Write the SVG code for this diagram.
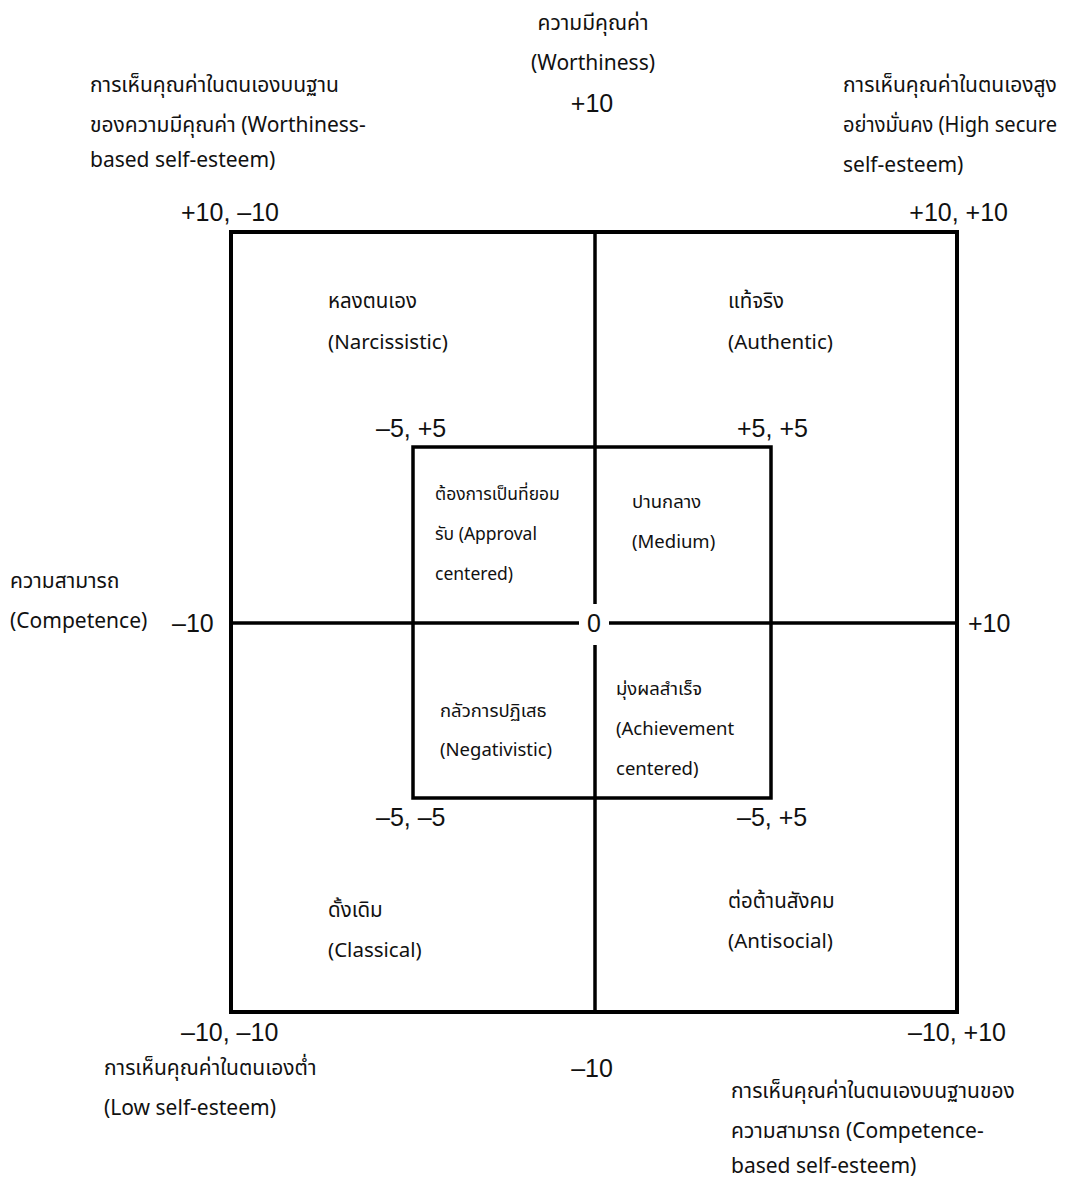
<svg xmlns="http://www.w3.org/2000/svg" width="1065" height="1181" viewBox="0 0 1065 1181">
<style>
.t{font-family:"Noto Sans","Noto Sans Thai",sans-serif;font-size:21px;fill:#111}
.q{font-family:"Noto Sans","Noto Sans Thai",sans-serif;font-size:20.5px;fill:#111}
.i{font-family:"Noto Sans","Noto Sans Thai",sans-serif;font-size:18.5px;fill:#111}
.s{font-family:"Noto Sans","Noto Sans Thai",sans-serif;font-size:17.5px;fill:#111}
.n{font-family:"Liberation Sans",Arial,sans-serif;font-size:25px;fill:#111}
.m{text-anchor:middle}
.e{text-anchor:end}
</style>
<rect width="1065" height="1181" fill="#fff"/>
<g id="connectors" fill="none" stroke="#000">
<rect x="231" y="232" width="726" height="780" stroke-width="4"/>
<rect x="413" y="447" width="358" height="351" stroke-width="3.5"/>
<line x1="595" y1="232" x2="595" y2="604" stroke-width="3.5"/>
<line x1="595" y1="645" x2="595" y2="1012" stroke-width="3.5"/>
<line x1="231" y1="623" x2="579" y2="623" stroke-width="3.5"/>
<line x1="609" y1="623" x2="957" y2="623" stroke-width="3.5"/>
</g>
<g id="axis-top">
<text class="t m" x="593" y="30">ความมีคุณค่า</text>
<text class="t m" x="593" y="70">(Worthiness)</text>
<text class="n m" x="592" y="112">+10</text>
</g>
<g id="axis-bottom"><text class="n m" x="592" y="1077">–10</text></g>
<g id="axis-left">
<text class="t" x="10" y="588">ความสามารถ</text>
<text class="t" x="10" y="628">(Competence)</text>
<text class="n" x="172" y="632">–10</text>
</g>
<g id="axis-right"><text class="n" x="968" y="632">+10</text></g>
<g id="origin"><text class="n m" x="594" y="632">0</text></g>
<g id="corner-tl">
<text class="t" x="90" y="92">การเห็นคุณค่าในตนเองบนฐาน</text>
<text class="t" x="90" y="132">ของความมีคุณค่า (Worthiness-</text>
<text class="t" x="90" y="167">based self-esteem)</text>
<text class="n" x="181" y="221">+10, –10</text>
</g>
<g id="corner-tr">
<text class="t" x="843" y="92">การเห็นคุณค่าในตนเองสูง</text>
<text class="t" x="843" y="132" textLength="214" lengthAdjust="spacingAndGlyphs">อย่างมั่นคง (High secure</text>
<text class="t" x="843" y="172">self-esteem)</text>
<text class="n e" x="1008" y="221">+10, +10</text>
</g>
<g id="corner-bl">
<text class="n" x="181" y="1041">–10, –10</text>
<text class="t" x="104" y="1075">การเห็นคุณค่าในตนเองต่ำ</text>
<text class="t" x="104" y="1115">(Low self-esteem)</text>
</g>
<g id="corner-br">
<text class="n e" x="1006" y="1041">–10, +10</text>
<text class="t" x="731" y="1098">การเห็นคุณค่าในตนเองบนฐานของ</text>
<text class="t" x="731" y="1138">ความสามารถ (Competence-</text>
<text class="t" x="731" y="1173">based self-esteem)</text>
</g>
<g id="narcissistic">
<text class="q" x="328" y="308">หลงตนเอง</text>
<text class="q" x="328" y="349">(Narcissistic)</text>
</g>
<g id="authentic">
<text class="q" x="728" y="308">แท้จริง</text>
<text class="q" x="728" y="349">(Authentic)</text>
</g>
<g id="inner-corners">
<text class="n" x="376" y="437">–5, +5</text>
<text class="n" x="737" y="437">+5, +5</text>
<text class="n" x="376" y="826">–5, –5</text>
<text class="n" x="737" y="826">–5, +5</text>
</g>
<g id="approval">
<text class="s" x="435" y="500">ต้องการเป็นที่ยอม</text>
<text class="s" x="435" y="540">รับ (Approval</text>
<text class="s" x="435" y="580">centered)</text>
</g>
<g id="medium">
<text class="i" x="632" y="508">ปานกลาง</text>
<text class="i" x="632" y="548">(Medium)</text>
</g>
<g id="negativistic">
<text class="i" x="440" y="717">กลัวการปฏิเสธ</text>
<text class="i" x="440" y="756">(Negativistic)</text>
</g>
<g id="achievement">
<text class="i" x="616" y="695">มุ่งผลสำเร็จ</text>
<text class="i" x="616" y="735">(Achievement</text>
<text class="i" x="616" y="775">centered)</text>
</g>
<g id="classical">
<text class="q" x="328" y="917">ดั้งเดิม</text>
<text class="q" x="328" y="957">(Classical)</text>
</g>
<g id="antisocial">
<text class="q" x="728" y="908">ต่อต้านสังคม</text>
<text class="q" x="728" y="948">(Antisocial)</text>
</g>
</svg>
